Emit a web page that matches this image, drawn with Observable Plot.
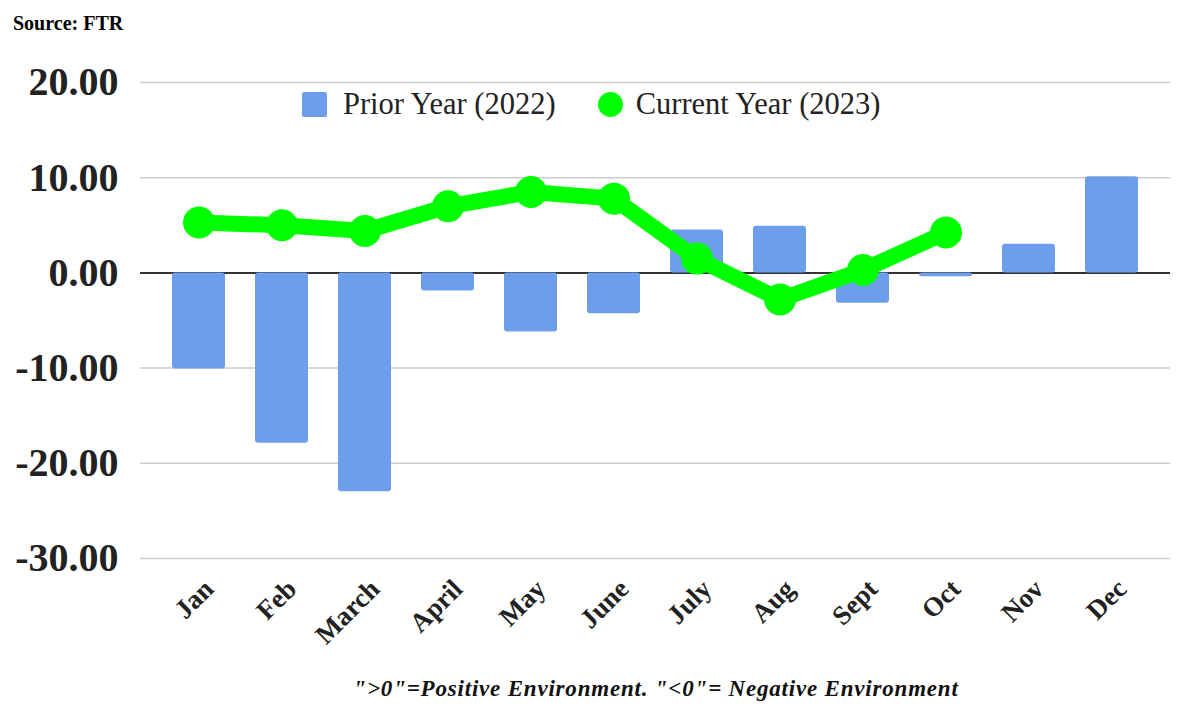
<!DOCTYPE html>
<html>
<head>
<meta charset="utf-8">
<script src="https://cdn.jsdelivr.net/npm/d3@7"></script>
<script src="https://cdn.jsdelivr.net/npm/@observablehq/plot@0.6"></script>
<style>
  html, body { margin: 0; padding: 0; background: #fff; }
  #wrap { position: relative; width: 1200px; height: 718px; overflow: hidden; font-family: "Liberation Serif", serif; }
  #source { position: absolute; left: 13px; top: 12px; font-size: 20px; font-weight: bold; color: #000; }
  #legend { position: absolute; left: 302px; top: 87px; font-size: 30.5px; color: #222; display: flex; align-items: center; }
  .sw-sq { width: 25px; height: 25px; background: #6d9eeb; border-radius: 2px; margin-right: 16px; }
  .sw-ci { width: 25px; height: 25px; background: #00ff00; border-radius: 50%; margin-left: 42px; margin-right: 13px; }
  #caption { position: absolute; left: 0; top: 675px; width: 1200px; text-align: center; padding-left: 112px; box-sizing: border-box; font-size: 23px; line-height: 28px; letter-spacing: 0.8px; font-weight: bold; font-style: italic; color: #111; }
  svg [aria-label^="y-axis"] text { font-size: 40px; font-weight: bold; fill: #222; }
  svg [aria-label^="x-axis"] text { font-size: 27px; font-weight: bold; fill: #222; }
</style>
</head>
<body>
<div id="wrap">
  <div id="chart"></div>
  <div id="source">Source: FTR</div>
  <div id="legend"><span class="sw-sq"></span><span>Prior Year (2022)</span><span class="sw-ci"></span><span>Current Year (2023)</span></div>
  <div id="caption">"&gt;0"=Positive Environment. "&lt;0"= Negative Environment</div>
</div>
<script>
const months = ["Jan","Feb","March","April","May","June","July","Aug","Sept","Oct","Nov","Dec"];
const priorYear2022 = [-10.1, -17.9, -23.0, -1.9, -6.2, -4.3, 4.5, 4.9, -3.2, -0.4, 3.0, 10.1];
const currentMonths = ["Jan","Feb","March","April","May","June","July","Aug","Sept","Oct"];
const currentYear2023 = [5.3, 5.0, 4.4, 7.0, 8.5, 7.8, 1.5, -2.8, 0.3, 4.25];
const yTicks = [-30, -20, -10, 0, 10, 20];

const prior = months.map((m, i) => ({month: m, value: priorYear2022[i]}));
const current = currentMonths.map((m, i) => ({month: m, value: currentYear2023[i]}));

const chart = Plot.plot({
  width: 1200,
  height: 718,
  marginLeft: 140,
  marginRight: 30,
  marginTop: 82,
  marginBottom: 160,
  style: {fontFamily: "Liberation Serif, serif", background: "#fff", overflow: "visible"},
  x: {domain: months, range: [139, 1170], paddingInner: 0.365, paddingOuter: 0.35, tickSize: 0, tickRotate: -45, tickPadding: 26, label: null},
  y: {domain: [-30, 20], ticks: yTicks, tickFormat: d => d.toFixed(2), tickSize: 0, tickPadding: 22, label: null},
  marks: [
    Plot.ruleY(yTicks.filter(d => d !== 0), {stroke: "#cccccc", strokeWidth: 1.5}),
    Plot.ruleY([0], {stroke: "#333", strokeWidth: 2}),
    Plot.barY(prior, {x: "month", y: "value", fill: "#6d9eeb", rx: 3}),
    Plot.line(current, {x: "month", y: "value", stroke: "#00ff00", strokeWidth: 16, strokeLinejoin: "round"}),
    Plot.dot(current, {x: "month", y: "value", r: 16, fill: "#00ff00", stroke: "none"})
  ]
});
// nudge the rotated month labels to the right, as in the reference
chart.querySelectorAll('g[aria-label^="x-axis"]').forEach(g => {
  const t = g.getAttribute("transform") || "";
  g.setAttribute("transform", (t + " translate(10,0)").trim());
});
document.getElementById("chart").appendChild(chart);
</script>
</body>
</html>
